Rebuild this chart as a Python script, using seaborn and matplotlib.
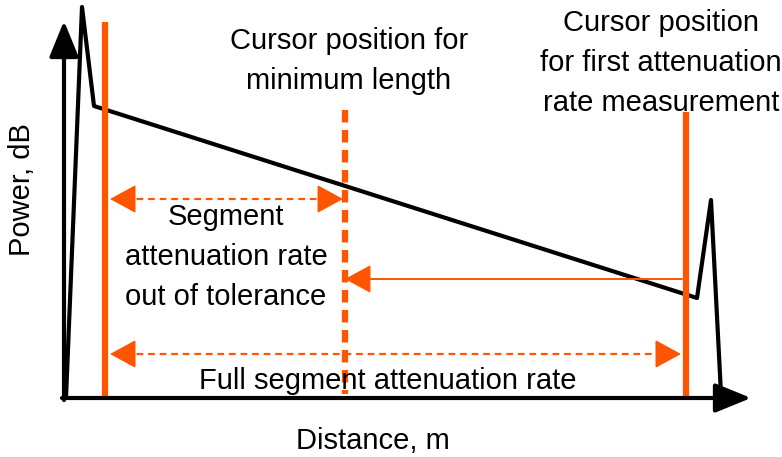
import matplotlib
matplotlib.use("Agg")
import matplotlib.pyplot as plt
import seaborn as sns
import pandas as pd

# --- datos (coordenadas del esquema, eje y hacia abajo) ---
trace_x = [66, 82, 94, 697, 711, 721]
trace_y = [398, 7, 106, 298, 200, 394]

cursor_x = [105, 686]          # cursores sólidos
cursor_top = [22, 112]
cursor_bottom = 398
min_len_x = 345                # cursor discontinuo (longitud mínima)
min_len_top = 110
min_len_bottom = 394

seg_arrow = (110, 343, 199)    # flecha doble punteada (segmento)
full_arrow = (110, 681, 354)   # flecha doble punteada (segmento completo)
meas_arrow = (682, 345, 279)   # flecha sólida (medición)

ORANGE = "#ff5500"

sns.set_theme(style="white")
plt.rcParams["font.family"] = ["Liberation Sans", "DejaVu Sans"]

fig = plt.figure(figsize=(7.82, 4.57), dpi=100)
ax = fig.add_axes([0, 0, 1, 1])
ax.set_xlim(0, 782)
ax.set_ylim(457, 0)

# ejes con flechas
ax.annotate("", xy=(64, 21), xytext=(64, 400),
            arrowprops=dict(arrowstyle="-|>,head_length=1.1,head_width=0.45",
                            color="black", lw=3, mutation_scale=20, shrinkA=0, shrinkB=0))
ax.annotate("", xy=(751, 398), xytext=(62, 398),
            arrowprops=dict(arrowstyle="-|>,head_length=1.1,head_width=0.45",
                            color="black", lw=3, mutation_scale=20, shrinkA=0, shrinkB=0))

# traza OTDR
df = pd.DataFrame({"x": trace_x, "y": trace_y})
sns.lineplot(data=df, x="x", y="y", sort=False, color="black", lw=3, ax=ax)
ax.axis("off")

# cursores
for cx, ct in zip(cursor_x, cursor_top):
    ax.plot([cx, cx], [ct, cursor_bottom], color=ORANGE, lw=4.5, solid_capstyle="butt")
ax.plot([min_len_x, min_len_x], [min_len_top, min_len_bottom], color=ORANGE, lw=4.5,
        linestyle=(0, (2.0, 1.2)), dash_capstyle="butt")


def head(x_tip, y, direction):
    # punta de flecha rellena en (x_tip, y); direction = +1 apunta a la derecha
    ax.annotate("", xy=(x_tip, y), xytext=(x_tip - direction * 24, y),
                arrowprops=dict(arrowstyle="-|>,head_length=1.1,head_width=0.6",
                                color=ORANGE, lw=1.2, mutation_scale=15,
                                shrinkA=0, shrinkB=0))


# flechas dobles punteadas
for x0, x1, y in [seg_arrow, full_arrow]:
    ax.plot([x0 + 15, x1 - 15], [y, y], color=ORANGE, lw=1.6,
            linestyle=(0, (3, 2.2)), dash_capstyle="butt")
    head(x0, y, -1)
    head(x1, y, +1)

# flecha sólida de medición
ax.plot([meas_arrow[0], meas_arrow[1] + 15], [meas_arrow[2]] * 2, color=ORANGE, lw=1.4)
head(meas_arrow[1], meas_arrow[2], -1)

# textos
fs = 21
ls = 1.55
kw = dict(ha="center", va="center", fontsize=fs, color="black")
ax.text(349, 61, "Cursor position for\nminimum length", linespacing=ls, **kw)
ax.text(661, 63, "Cursor position\nfor first attenuation\nrate measurement", linespacing=ls, **kw)
ax.text(226, 257, "Segment\nattenuation rate\nout of tolerance", linespacing=ls, **kw)
ax.text(388, 381, "Full segment attenuation rate", **kw)
ax.text(22, 190, "Power, dB", rotation=90, **kw)
ax.text(373, 441, "Distance, m", **kw)

fig.savefig("out.png", dpi=100)
